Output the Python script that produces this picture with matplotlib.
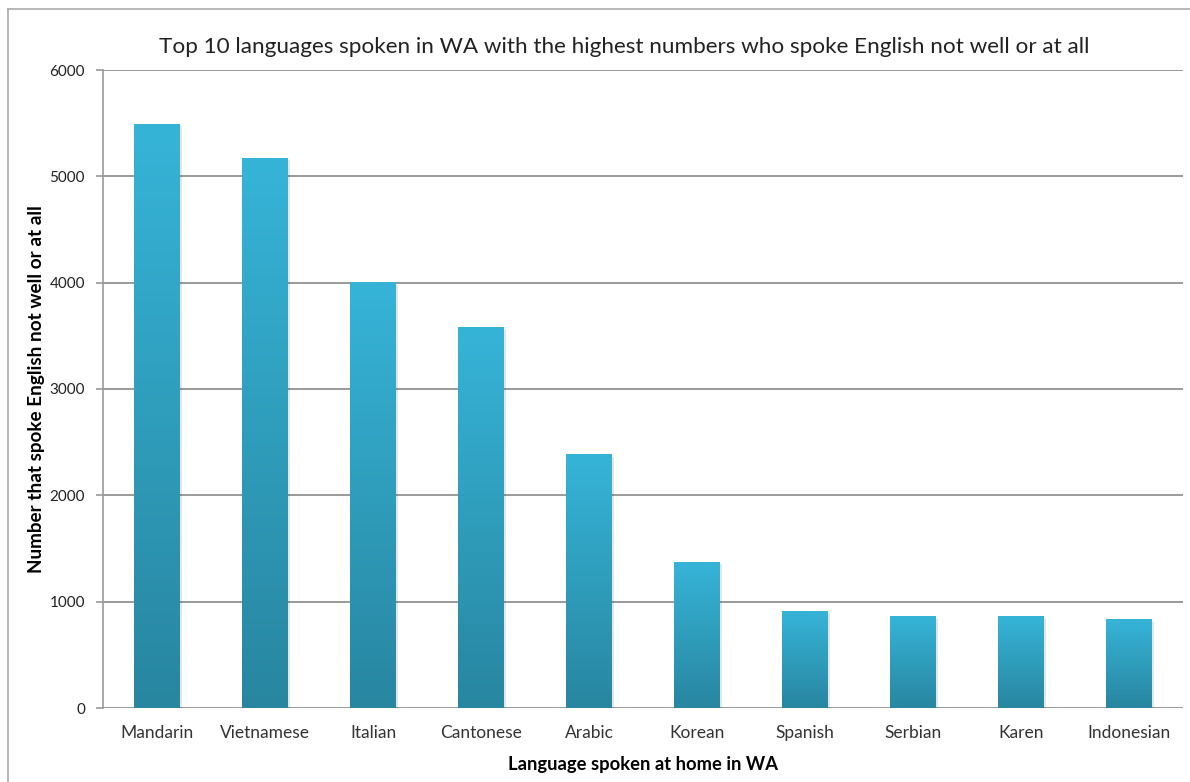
import matplotlib.pyplot as plt
import numpy as np
from matplotlib.colors import LinearSegmentedColormap
from matplotlib.lines import Line2D

languages = ['Mandarin', 'Vietnamese', 'Italian', 'Cantonese', 'Arabic',
             'Korean', 'Spanish', 'Serbian', 'Karen', 'Indonesian']
counts = [5490, 5170, 3997, 3574, 2380, 1373, 912, 856, 856, 828]
yticks = [0, 1000, 2000, 3000, 4000, 5000, 6000]

plt.rcParams['font.family'] = ['Lato', 'DejaVu Sans']

W, H = 1190, 782
fig = plt.figure(figsize=(W / 100, H / 100), dpi=100)
ax = fig.add_axes([103 / W, 1 - 708 / H, 1080 / W, 638 / H])

# light at top, dark at bottom
cmap = LinearSegmentedColormap.from_list('bar', ['#2886a0', '#36b4d8'])
grad = np.linspace(0, 1, 256).reshape(-1, 1)
x = np.arange(len(languages))
width = 0.42

ax.set_xlim(-0.5, len(languages) - 0.5)
ax.set_ylim(0, 6000)

for xi, v in zip(x, counts):
    # soft shadow on the right
    ax.bar(xi + 0.02, v, width=width, bottom=-15, color='#000000', alpha=0.10, zorder=2)
    ax.imshow(grad, extent=(xi - width / 2, xi + width / 2, 0, v), origin='lower',
              cmap=cmap, aspect='auto', zorder=3)

ax.set_aspect('auto')
ax.set_xticks(x)
ax.set_xticklabels(languages, fontsize=12.5, color='#333333')
ax.set_yticks(yticks)
ax.set_yticklabels([str(t) for t in yticks], fontsize=11, color='#222222')
ax.yaxis.grid(True, color='#9a9a9a', linewidth=1.4)
ax.set_axisbelow(True)
for s in ['top', 'right', 'bottom']:
    ax.spines[s].set_visible(False)
ax.spines['left'].set_color('#9a9a9a')
ax.spines['left'].set_linewidth(1.2)
ax.tick_params(axis='x', length=0, pad=12)
ax.tick_params(axis='y', length=5, color='#9a9a9a', width=1.2, pad=8)

ax.set_title('Top 10 languages spoken in WA with the highest numbers who spoke English not well or at all',
             fontsize=16.2, color='#222222', pad=12, x=0.483)
ax.set_xlabel('Language spoken at home in WA', fontsize=13.2, fontweight='bold', labelpad=11)
ax.set_ylabel('Number that spoke English not well or at all', fontsize=13.6, fontweight='bold', labelpad=3)

# outer frame
fig.add_artist(Line2D([8 / W, 8 / W], [0, 1 - 9 / H], color='#aaaaaa', lw=1.2))
fig.add_artist(Line2D([8 / W, 1], [1 - 9 / H, 1 - 9 / H], color='#aaaaaa', lw=1.2))

fig.savefig('out.png', dpi=100)
